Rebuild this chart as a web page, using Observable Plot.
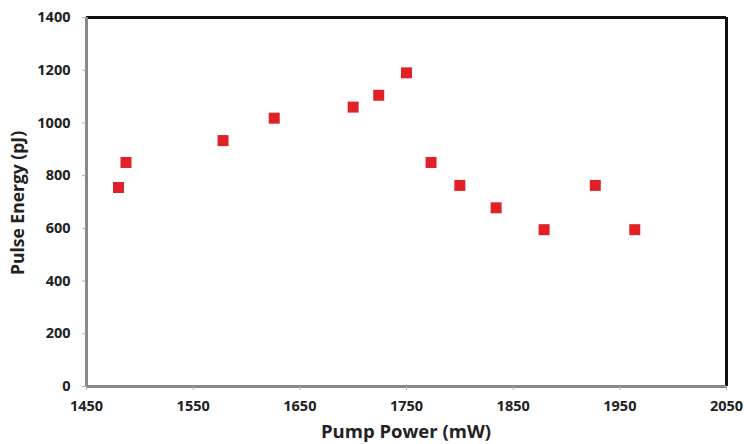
<!DOCTYPE html>
<html><head><meta charset="utf-8">
<script src="https://cdn.jsdelivr.net/npm/d3@7"></script>
<script src="https://cdn.jsdelivr.net/npm/@observablehq/plot@0.6"></script>
<style>
body{margin:0;background:#fff;}
</style>
</head><body><div id="chart"></div>
<script>
const pumpPower = [1480, 1487, 1578, 1626, 1700, 1724, 1750, 1773, 1800, 1834, 1879, 1927, 1964];
const pulseEnergy = [755, 850, 933, 1018, 1060, 1105, 1190, 850, 763, 678, 595, 763, 595];
const xTicks = [1450, 1550, 1650, 1750, 1850, 1950, 2050];
const yTicks = [0, 200, 400, 600, 800, 1000, 1200, 1400];
const data = pumpPower.map((x, i) => ({x, y: pulseEnergy[i]}));

const font = "'Open Sans', Lato, sans-serif";
const chart = Plot.plot({
  width: 744, height: 444,
  marginLeft: 86, marginRight: 18, marginTop: 17, marginBottom: 58,
  style: {fontFamily: font, background: "#fff"},
  x: {domain: [1450, 2050], ticks: xTicks, tickFormat: d => String(d), label: null},
  y: {domain: [0, 1400], ticks: yTicks, tickFormat: d => String(d), label: null},
  marks: [
    Plot.ruleX([2050], {stroke: "#111", strokeWidth: 3}),
    Plot.ruleY([1400], {stroke: "#111", strokeWidth: 3}),
    Plot.ruleX([1450], {stroke: "#888", strokeWidth: 3}),
    Plot.ruleY([0], {stroke: "#888", strokeWidth: 3}),
    Plot.axisX({ticks: xTicks, tickSize: 4, stroke: "#aaa", tickPadding: 10, fontSize: 14.5, fontWeight: 700, fill: "#222", tickFormat: d => String(d), label: null}),
    Plot.axisY({ticks: yTicks, tickSize: 4, stroke: "#aaa", tickPadding: 12, fontSize: 14.5, fontWeight: 700, fill: "#222", tickFormat: d => String(d), label: null}),
    Plot.dot(data, {x: "x", y: "y", symbol: "square", r: 6.2, fill: "#e02228", stroke: null})
  ]
});
const svg = d3.select(chart);
svg.append("text").attr("x", 406).attr("y", 438).attr("text-anchor", "middle")
  .attr("font-family", font).attr("font-size", 18.5).attr("font-weight", 700).attr("fill", "#222").text("Pump Power (mW)");
svg.append("text").attr("transform", "translate(24,203) rotate(-90)").attr("text-anchor", "middle")
  .attr("font-family", font).attr("font-size", 17.5).attr("font-weight", 700).attr("fill", "#222").text("Pulse Energy (pJ)");
document.getElementById("chart").append(chart);
</script></body></html>
